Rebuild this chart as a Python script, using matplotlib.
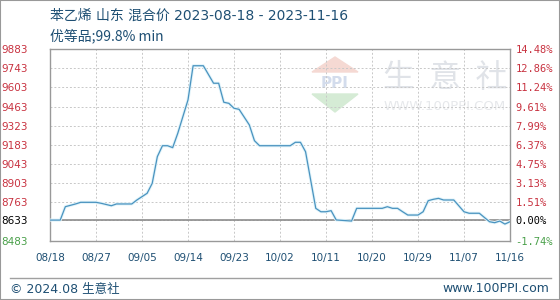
import matplotlib
matplotlib.use('Agg')
import matplotlib.pyplot as plt
import matplotlib.dates as mdates
from matplotlib.patches import Polygon, Rectangle
from matplotlib.lines import Line2D
import pandas as pd

plt.rcParams['font.family'] = ['DejaVu Sans', 'Noto Sans CJK SC']

# price series
dates = ['2023-08-18', '2023-08-20', '2023-08-21', '2023-08-23', '2023-08-24', '2023-08-27',
         '2023-08-28', '2023-08-30', '2023-08-31', '2023-09-03', '2023-09-04', '2023-09-06',
         '2023-09-07', '2023-09-08', '2023-09-09', '2023-09-10', '2023-09-11', '2023-09-12',
         '2023-09-14', '2023-09-15', '2023-09-17', '2023-09-19', '2023-09-20', '2023-09-21',
         '2023-09-22', '2023-09-23', '2023-09-24', '2023-09-26', '2023-09-27', '2023-09-28',
         '2023-10-04', '2023-10-05', '2023-10-06', '2023-10-07', '2023-10-08', '2023-10-09',
         '2023-10-10', '2023-10-11', '2023-10-12', '2023-10-13', '2023-10-16', '2023-10-17',
         '2023-10-22', '2023-10-23', '2023-10-24', '2023-10-25', '2023-10-26', '2023-10-27',
         '2023-10-29', '2023-10-30', '2023-10-31', '2023-11-01', '2023-11-02', '2023-11-03',
         '2023-11-05', '2023-11-07', '2023-11-08', '2023-11-10', '2023-11-12', '2023-11-13',
         '2023-11-14', '2023-11-15', '2023-11-16']
prices = [8633, 8633, 8731, 8751, 8763, 8763,
          8756, 8738, 8751, 8751, 8780, 8829,
          8902, 9097, 9177, 9177, 9163, 9268,
          9512, 9762, 9762, 9634, 9634, 9495,
          9487, 9451, 9443, 9329, 9214, 9177,
          9177, 9202, 9202, 9133, 8926, 8719,
          8694, 8694, 8702, 8634, 8626, 8719,
          8719, 8731, 8719, 8719, 8694, 8670,
          8670, 8694, 8775, 8785, 8792, 8780,
          8780, 8694, 8683, 8683, 8621, 8614,
          8626, 8604, 8621]

base_price = 8633
y_ticks = [8483, 8633, 8763, 8903, 9043, 9183, 9323, 9463, 9603, 9743, 9883]
x_tick_dates = ['2023-08-18', '2023-08-27', '2023-09-05', '2023-09-14', '2023-09-23',
                '2023-10-02', '2023-10-11', '2023-10-20', '2023-10-29', '2023-11-07',
                '2023-11-16']

title = '苯乙烯 山东 混合价 2023-08-18 - 2023-11-16'
subtitle = '优等品;99.8% min'

W, H = 560, 300
fig = plt.figure(figsize=(W / 100, H / 100), dpi=100)
fig.patch.set_facecolor('white')


def fx(px):
    return px / W


def fy(py):
    return 1 - py / H


text_blue = '#1e4f73'
red = '#c83240'
green = '#4aa04a'

ax = fig.add_axes([fx(50), fy(240.6), fx(510) - fx(50), fy(49.2) - fy(240.6)])

x = pd.to_datetime(dates)
ax.plot(x, prices, color='#e0f3fa', lw=2.2, zorder=3, solid_joinstyle='round')
ax.plot(x, prices, color='#4a93bf', lw=0.9, zorder=4)

ax.set_ylim(y_ticks[0], y_ticks[-1])
ax.set_xlim(pd.Timestamp(x_tick_dates[0]), pd.Timestamp(x_tick_dates[-1]))
ax.axhline(base_price, color='#8c8c8c', lw=1.2, zorder=2)

# left ticks
ax.set_yticks(y_ticks)
ax.set_yticklabels([str(v) for v in y_ticks])
ax.tick_params(axis='y', length=0, pad=16, labelsize=7.5)
for lab, v in zip(ax.get_yticklabels(), y_ticks):
    lab.set_color(red if v > base_price else (green if v < base_price else 'black'))

# x ticks
ax.set_xticks(pd.to_datetime(x_tick_dates))
ax.xaxis.set_major_formatter(mdates.DateFormatter('%m/%d'))
ax.tick_params(axis='x', length=0, pad=9, labelsize=7.5, labelcolor=text_blue)

ax.grid(True, color='#c8c8c8', ls=(0, (2, 2)), lw=0.7, zorder=1)
for s in ax.spines.values():
    s.set_color('#999999')
    s.set_linewidth(1)

# right percentage ticks
ax2 = ax.twinx()
ax2.set_ylim(ax.get_ylim())
ax2.set_yticks(y_ticks)
ax2.set_yticklabels(['%.2f%%' % ((v - base_price) / base_price * 100) for v in y_ticks],
                    family='DejaVu Sans Mono')
ax2.tick_params(axis='y', length=0, pad=4, labelsize=7.5)
for lab, v in zip(ax2.get_yticklabels(), y_ticks):
    lab.set_color(red if v > base_price else (green if v < base_price else 'black'))
for s in ax2.spines.values():
    s.set_visible(False)

# watermark
ax.set_zorder(2)
ax.patch.set_alpha(0)
wm = fig.add_axes([0, 0, 1, 1], zorder=1)
wm.set_xlim(0, W)
wm.set_ylim(H, 0)
wm.axis('off')
wm.add_patch(Polygon([[312, 72], [335, 57], [358, 72]], closed=True, color='#f5d9d3'))
wm.add_patch(Polygon([[312, 94], [358, 94], [335, 112]], closed=True, color='#d5ebd5'))
wm.text(335, 84, 'PPI', ha='center', va='center', fontsize=11, color='#d3dcec', weight='bold')
wm.text(445, 78, '生  意  社', ha='center', va='center', fontsize=23, color='#e0e3e8',
        family=['Noto Sans CJK SC'])
wm.text(445, 106, 'WWW.100PPI.COM', ha='center', va='center', fontsize=9.5, color='#e6e8eb')

# titles
fig.text(fx(50), fy(16), title, ha='left', va='center', fontsize=10, color=text_blue,
         family=['DejaVu Sans', 'Noto Sans CJK SC'])
fig.text(fx(50), fy(36), subtitle, ha='left', va='center', fontsize=10, color=text_blue,
         family=['Noto Sans CJK SC', 'DejaVu Sans'])

# footer
fig.add_artist(Line2D([fx(10), fx(551)], [fy(278), fy(278)], color='#a0a0a0', lw=1))
fig.text(fx(10), fy(289), '© 2024.08 生意社', ha='left', va='center', fontsize=9,
         color=text_blue, family=['DejaVu Sans', 'Noto Sans CJK SC'])
fig.text(fx(549), fy(289), 'www.100PPI.com', ha='right', va='center', fontsize=9,
         color=text_blue)

# outer border
fig.add_artist(Rectangle((0, 0), 1, 1, transform=fig.transFigure, fill=False,
                         edgecolor='#999999', lw=1.5))

fig.savefig('out.png', dpi=100, facecolor='white')
